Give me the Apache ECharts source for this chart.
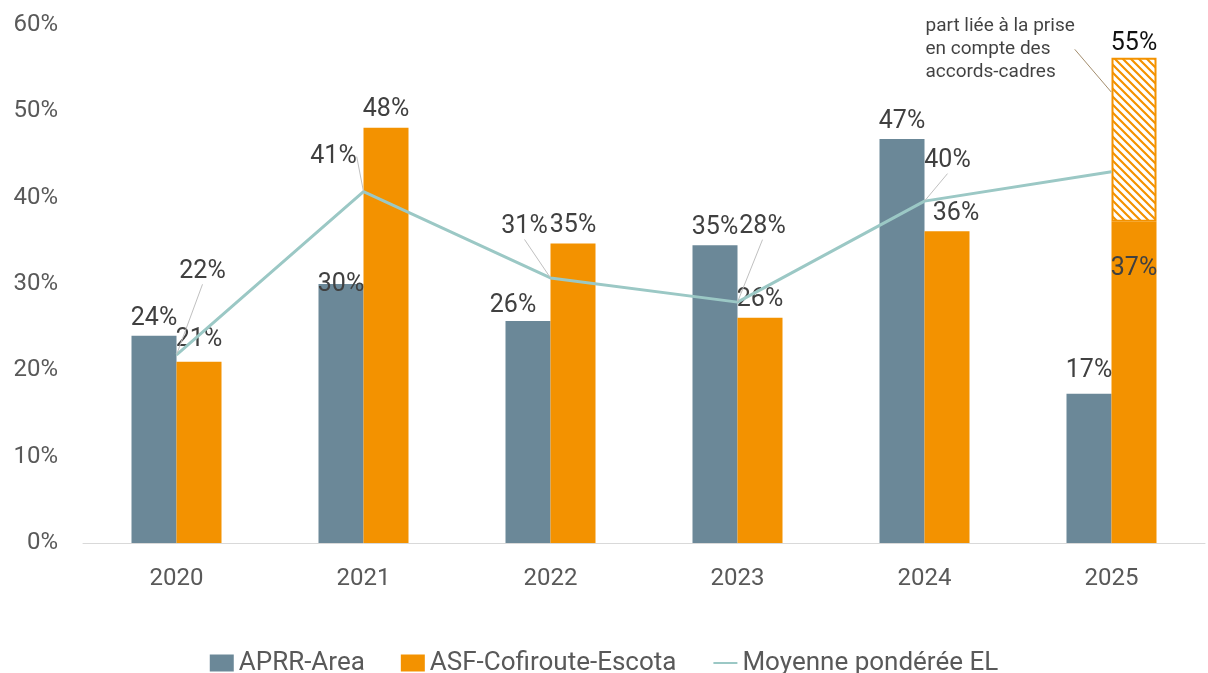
<!DOCTYPE html>
<html>
<head>
<meta charset="utf-8">
<script src="https://cdn.jsdelivr.net/npm/echarts@6/dist/echarts.min.js"></script>
<style>
html,body{margin:0;padding:0;background:#fff;}
#chart{width:1208px;height:673px;}
</style>
</head>
<body>
<div id="chart"></div>
<script>
// ---- data ----
const years = ['2020', '2021', '2022', '2023', '2024', '2025'];
const aprr = [24.0, 30.0, 25.7, 34.5, 46.8, 17.3];
const asf = [21.0, 48.1, 34.7, 26.1, 36.1, 37.2];
const asfAccords = [null, null, null, null, null, 19.0];
const asfAccordsLabel = ['', '', '', '', '', '55%'];
const moyenne = [21.8, 40.7, 30.7, 27.9, 39.6, 43.0];
const moyenneLabelShown = [true, true, true, true, true, false];
const annotationText = 'part liée à la prise\nen compte des\naccords-cadres';
const annotationValue = [null, null, null, null, null, 52.2];
const yTickValues = [0, 10, 20, 30, 40, 50, 60];

// ---- styles ----
const FONT = 'Roboto';
const C_APRR = '#6b8898';
const C_ASF = '#f39200';
const C_LINE = '#9bc8c5';
const C_LABEL = '#404040';

const aprrOffsets = [[0,0],[0,18],[-15,2],[0,0],[0,0],[0,-5]];
const asfOffsets = [[0,-4],[0,0],[0,0],[0,0],[9,0],[0,29]];
const lineShifts = [[26,-83],[-30,-35],[-26,-51],[25,-75],[23,-40],[0,0]];

function hatch() {
  const s = 8;
  const c = document.createElement('canvas');
  c.width = s; c.height = s;
  const g = c.getContext('2d');
  g.fillStyle = '#ffffff';
  g.fillRect(0, 0, s, s);
  g.strokeStyle = C_ASF;
  g.lineWidth = 2.2;
  g.beginPath();
  for (let k = -s; k <= s; k += s) {
    g.moveTo(k - 1, -1);
    g.lineTo(k + s + 1, s + 1);
  }
  g.stroke();
  return c;
}

const pct = v => Math.round(v) + '%';
const labelBase = {color: C_LABEL, fontFamily: FONT, fontSize: 25};

const chart = echarts.init(document.getElementById('chart'), null, {renderer: 'canvas'});
chart.setOption({
  animation: false,
  backgroundColor: '#ffffff',
  grid: {left: 83, right: 3, top: 25, bottom: 130, containLabel: false},
  legend: {
    data: [
      {name: 'APRR-Area', icon: 'rect'},
      {name: 'ASF-Cofiroute-Escota', icon: 'rect'},
      {name: 'Moyenne pondérée EL', itemStyle: {opacity: 0}}
    ],
    top: 645,
    left: 'center',
    itemWidth: 24,
    itemHeight: 17,
    itemGap: 36,
    textStyle: {color: '#595959', fontFamily: FONT, fontSize: 26}
  },
  xAxis: {
    type: 'category',
    data: years,
    axisLine: {lineStyle: {color: '#d9d9d9', width: 1}},
    axisTick: {show: false},
    axisLabel: {color: '#595959', fontFamily: FONT, fontSize: 24, margin: 24}
  },
  yAxis: {
    type: 'value',
    min: yTickValues[0],
    max: yTickValues[yTickValues.length - 1],
    interval: 10,
    splitLine: {show: false},
    axisLine: {show: false},
    axisTick: {show: false},
    axisLabel: {color: '#595959', fontFamily: FONT, fontSize: 24, margin: 25, formatter: '{value}%'}
  },
  series: [
    {
      name: 'APRR-Area',
      type: 'bar',
      barWidth: 45,
      barGap: '0%',
      itemStyle: {color: C_APRR},
      data: aprr.map((v, i) => ({
        value: v,
        label: Object.assign({show: true, position: 'top', offset: aprrOffsets[i], formatter: pct(v)}, labelBase)
      }))
    },
    {
      name: 'ASF-Cofiroute-Escota',
      type: 'bar',
      stack: 'asf',
      barWidth: 45,
      barGap: '0%',
      itemStyle: {color: C_ASF},
      data: asf.map((v, i) => ({
        value: v,
        label: Object.assign({show: true, position: i === 5 ? 'insideTop' : 'top', offset: asfOffsets[i], formatter: pct(v)}, labelBase)
      }))
    },
    {
      name: 'accords',
      type: 'bar',
      stack: 'asf',
      barWidth: 45,
      barGap: '0%',
      itemStyle: {color: {image: hatch(), repeat: 'repeat'}, borderColor: C_ASF, borderWidth: 2},
      data: asfAccords.map((v, i) => ({
        value: v,
        label: {show: v != null, position: 'top', offset: [0, 3], formatter: asfAccordsLabel[i],
                color: '#111111', fontFamily: FONT, fontSize: 25}
      }))
    },
    {
      name: 'Moyenne pondérée EL',
      type: 'line',
      symbol: 'circle',
      symbolSize: 1,
      showSymbol: true,
      itemStyle: {color: C_LINE},
      lineStyle: {color: C_LINE, width: 3},
      z: 5,
      label: Object.assign({show: true, position: 'inside', formatter: p => pct(p.value)}, labelBase),
      labelLine: {show: true, lineStyle: {color: '#c0c0c0', width: 1}},
      labelLayout: p => ({dx: lineShifts[p.dataIndex][0], dy: lineShifts[p.dataIndex][1]}),
      data: moyenne.map((v, i) => ({value: v, label: {show: moyenneLabelShown[i]}}))
    },
    {
      name: 'annotation',
      type: 'scatter',
      symbolSize: 1,
      itemStyle: {color: 'rgba(0,0,0,0)'},
      z: 6,
      label: {show: true, position: 'inside', align: 'left', verticalAlign: 'middle',
              formatter: annotationText, color: '#111111', fontFamily: FONT, fontSize: 19, lineHeight: 23},
      labelLine: {show: true, lineStyle: {color: '#a38d6d', width: 1}},
      labelLayout: {dx: -186, dy: -43},
      data: annotationValue
    }
  ]
});
</script>
</body>
</html>
